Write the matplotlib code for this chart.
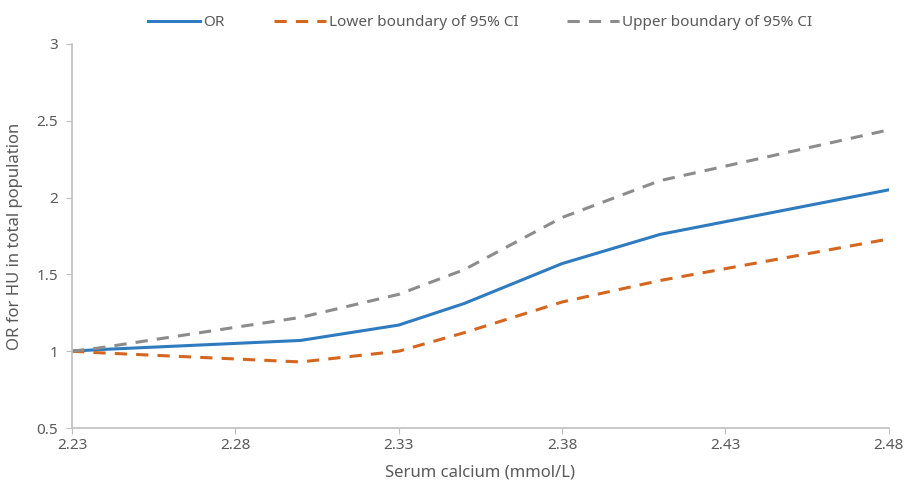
import matplotlib.pyplot as plt

# Serum calcium (mmol/L) and OR estimates
calcium = [2.23, 2.238, 2.30, 2.33, 2.35, 2.38, 2.41, 2.48]
odds_ratio = [1.00, 1.01, 1.07, 1.17, 1.31, 1.57, 1.76, 2.05]
ci_lower = [1.00, 0.99, 0.93, 1.00, 1.12, 1.32, 1.46, 1.73]
ci_upper = [1.00, 1.02, 1.22, 1.37, 1.53, 1.87, 2.11, 2.44]

x_ticks = [2.23, 2.28, 2.33, 2.38, 2.43, 2.48]
y_ticks = [0.5, 1, 1.5, 2, 2.5, 3]

plt.rcParams['font.family'] = ['Noto Sans', 'DejaVu Sans']
text_color = '#595959'

fig = plt.figure(figsize=(9.05, 4.82), dpi=100)
ax = fig.add_axes([0.0796, 0.112, 0.9024, 0.797])

ax.plot(calcium, odds_ratio, color='#2E7BBF', lw=2.2, label='OR')
ax.plot(calcium, ci_lower, color='#D4661F', lw=2.2, ls=(0, (4, 3)),
        label='Lower boundary of 95% CI')
ax.plot(calcium, ci_upper, color='#8C8C8C', lw=2.2, ls=(0, (4, 3)),
        label='Upper boundary of 95% CI')

ax.set_xlim(2.23, 2.48)
ax.set_ylim(0.5, 3)
ax.set_xticks(x_ticks)
ax.set_xticklabels([f'{t:.2f}' for t in x_ticks])
ax.set_yticks(y_ticks)
ax.set_yticklabels(['0.5', '1', '1.5', '2', '2.5', '3'])

for side in ['top', 'right']:
    ax.spines[side].set_visible(False)
for side in ['left', 'bottom']:
    ax.spines[side].set_color('#BFBFBF')
    ax.spines[side].set_linewidth(1.2)
ax.tick_params(colors='#BFBFBF', labelcolor=text_color, labelsize=11, length=4)
ax.tick_params(axis='y', pad=6)

ax.set_xlabel('Serum calcium (mmol/L)', color=text_color, fontsize=12, labelpad=8)
ax.set_ylabel('OR for HU in total population', color=text_color, fontsize=12, labelpad=10)

leg = ax.legend(loc='lower center', bbox_to_anchor=(0.5, 1.0), ncol=3,
                frameon=False, fontsize=11, handlelength=3.4, handletextpad=0.2,
                columnspacing=3.2)
for t in leg.get_texts():
    t.set_color(text_color)

fig.savefig('out.png', dpi=100)
